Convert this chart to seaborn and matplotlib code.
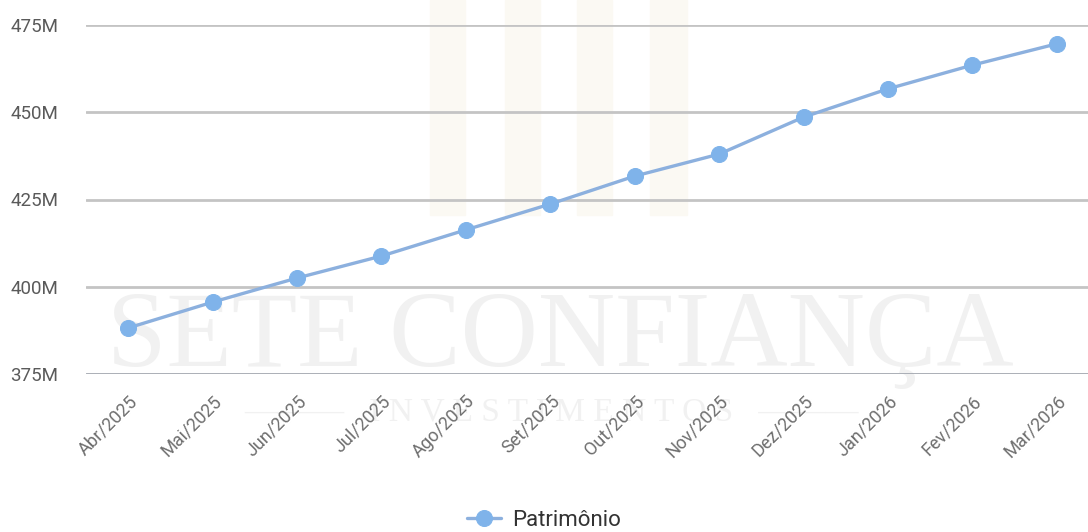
import pandas as pd
import numpy as np
import matplotlib
matplotlib.use('Agg')
import matplotlib.pyplot as plt
from matplotlib.patches import Rectangle
import seaborn as sns

meses = ['Abr/2025', 'Mai/2025', 'Jun/2025', 'Jul/2025', 'Ago/2025', 'Set/2025',
         'Out/2025', 'Nov/2025', 'Dez/2025', 'Jan/2026', 'Fev/2026', 'Mar/2026']
patrimonio = [388.2, 395.6, 402.5, 408.8, 416.3, 423.7,
              431.7, 438.0, 448.6, 456.7, 463.5, 469.6]  # em milhões
y_ticks = [375, 400, 425, 450, 475]

df = pd.DataFrame({'mes': meses, 'patrimonio': patrimonio})
df['pos'] = np.arange(len(df))

sns.set_style("white")
plt.rcParams['font.family'] = ['Roboto', 'DejaVu Sans']

W, H = 1088, 532
fig = plt.figure(figsize=(W / 100, H / 100), dpi=100)
ax = fig.add_axes([86 / W, 1 - 374 / H, 1 - 86 / W, (374 - 25) / H])
ax.set_zorder(5)

# marca d'água (logo ao fundo)
for x0, x1 in [(430, 465), (505, 540), (577, 612), (650, 687)]:
    fig.patches.append(Rectangle(((x0) / W, 1 - 215 / H), (x1 - x0) / W, 215 / H,
                                 transform=fig.transFigure, color='#fbf9f3', zorder=0))
fig.text(560 / W, 1 - 366 / H, 'SETE CONFIANÇA', family='Liberation Serif', fontsize=77,
         color='#f1f1f1', ha='center', va='baseline', zorder=0)
fig.text(552 / W, 1 - 412 / H, '———   I N V E S T I M E N T O S   ———',
         family='Liberation Serif', fontsize=24, color='#f1f1f1',
         ha='center', va='center', zorder=0)

for t in y_ticks:
    ax.axhline(t, color='#a3a8b0' if t == y_ticks[0] else '#c4c4c4', lw=2, zorder=1)

sns.lineplot(data=df, x='pos', y='patrimonio', ax=ax, sort=False,
             color='#8cb0de', lw=2.4, marker='o', markersize=11.5,
             markerfacecolor='#7fb3ea', markeredgecolor='#7fb3ea',
             label='Patrimônio', zorder=3)

ax.set_xlim(-0.5, 11.37)
ax.set_ylim(375, 475)
ax.set_yticks(y_ticks)
ax.set_yticklabels([f'{t}M' for t in y_ticks])
ax.set_xticks(df['pos'])
ax.set_xticklabels(meses, rotation=45, ha='right', rotation_mode='anchor')
ax.tick_params(axis='y', length=0, pad=20, labelsize=13.5, labelcolor='#5a5a5a')
ax.tick_params(axis='x', length=0, pad=13, labelsize=13, labelcolor='#6e6e6e')
ax.set_xlabel('')
ax.set_ylabel('')
ax.patch.set_alpha(0)
sns.despine(ax=ax, left=True, bottom=True)

leg = ax.legend(loc='center', bbox_to_anchor=(0.5, 1 - 520 / H), bbox_transform=fig.transFigure,
                frameon=False, fontsize=16, handlelength=1.5, handletextpad=0.5)
for txt in leg.get_texts():
    txt.set_color('#333333')

fig.savefig('out.png', dpi=100)
